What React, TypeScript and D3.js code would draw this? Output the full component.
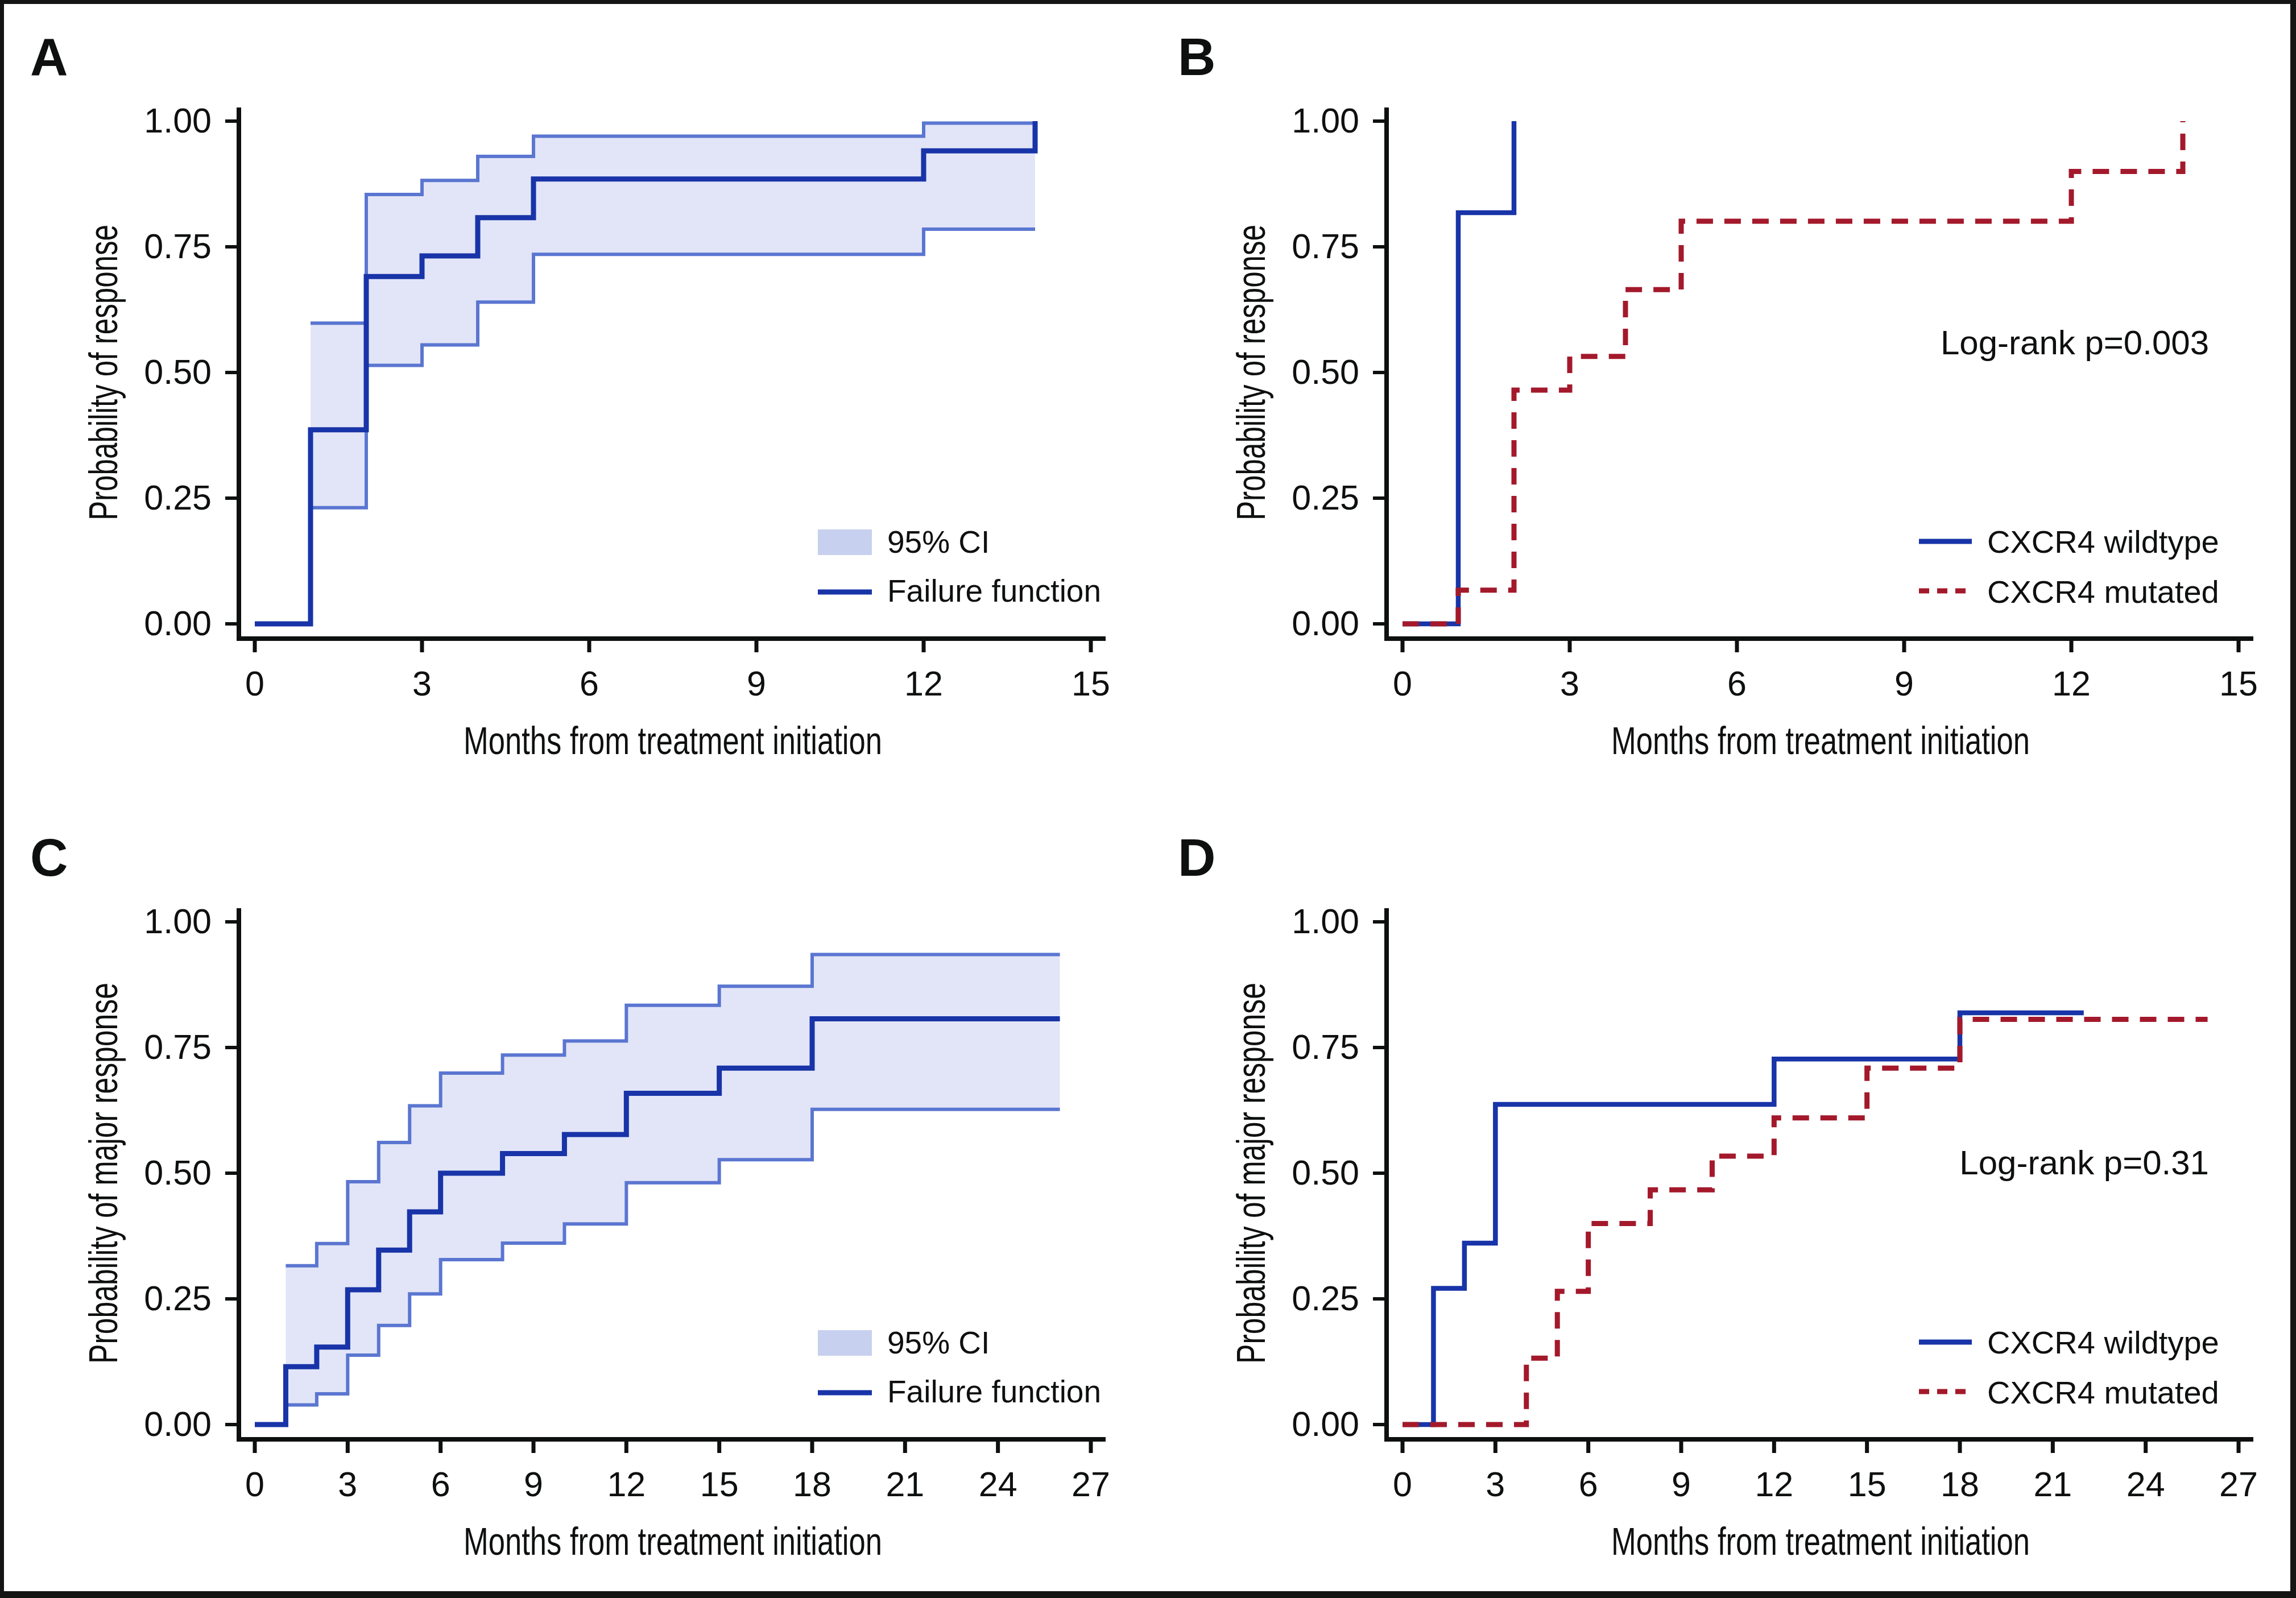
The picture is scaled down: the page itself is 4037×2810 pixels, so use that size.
import React from "react";
import * as d3 from "d3";

const W = 4037;
const H = 2810;

// tick values
const yTicks = [0, 0.25, 0.5, 0.75, 1];
const xTicksShort = [0, 3, 6, 9, 12, 15];
const xTicksLong = [0, 3, 6, 9, 12, 15, 18, 21, 24, 27];

// panel A: overall response, failure function + 95% CI
const aTimes = [0, 1, 2, 3, 4, 5, 12, 14];
const aFailure = [0, 0.386, 0.691, 0.732, 0.808, 0.885, 0.941, 1.0];
const aCiTimes = [1, 2, 3, 4, 5, 12, 14];
const aUpper = [0.598, 0.854, 0.882, 0.93, 0.97, 0.996, 0.996];
const aLower = [0.231, 0.514, 0.555, 0.64, 0.735, 0.785, 0.785];

// panel B: response by CXCR4 status
const bWildTimes = [0, 1, 2];
const bWild = [0, 0.818, 1.0];
const bMutTimes = [0, 1, 2, 3, 4, 5, 12, 14];
const bMut = [0, 0.067, 0.465, 0.532, 0.665, 0.801, 0.9, 1.0];

// panel C: major response, failure function + 95% CI
const cTimes = [0, 1, 2, 3, 4, 5, 6, 8, 10, 12, 15, 18, 26];
const cFailure = [0, 0.115, 0.154, 0.268, 0.347, 0.423, 0.5, 0.539, 0.577, 0.659, 0.709, 0.807, 0.807];
const cCiTimes = [1, 2, 3, 4, 5, 6, 8, 10, 12, 15, 18, 26];
const cUpper = [0.316, 0.36, 0.483, 0.561, 0.634, 0.699, 0.735, 0.763, 0.834, 0.872, 0.935, 0.935];
const cLower = [0.039, 0.061, 0.138, 0.197, 0.26, 0.328, 0.361, 0.399, 0.481, 0.527, 0.627, 0.627];

// panel D: major response by CXCR4 status
const dWildTimes = [0, 1, 2, 3, 12, 18, 22];
const dWild = [0, 0.271, 0.361, 0.637, 0.727, 0.819, 0.819];
const dMutTimes = [0, 4, 5, 6, 8, 10, 12, 15, 18, 26];
const dMut = [0, 0.132, 0.265, 0.4, 0.467, 0.534, 0.61, 0.709, 0.806, 0.806];

const FONT = "'Liberation Sans', Arial, Helvetica, sans-serif";
const INK = "#0e0f0f";
const BLUE = "#1834a8";
const CI_LINE = "#5b76d1";
const CI_FILL = "#e2e5f7";
const CI_SWATCH = "#c8d0ef";
const RED = "#a3192b";
const DASH = "29,20";

type Scale = d3.ScaleLinear<number, number>;

const zip = (t: number[], v: number[]): [number, number][] => t.map((d, i) => [d, v[i]]);

const stepPath = (x: Scale, y: Scale, t: number[], v: number[]) =>
  d3
    .line<[number, number]>()
    .x(d => x(d[0]))
    .y(d => y(d[1]))
    .curve(d3.curveStepAfter)(zip(t, v)) || "";

const bandPath = (x: Scale, y: Scale, t: number[], lo: number[], hi: number[]) =>
  d3
    .area<number>()
    .x(d => x(d))
    .y0((d, i) => y(lo[i]))
    .y1((d, i) => y(hi[i]))
    .curve(d3.curveStepAfter)(t) || "";

type PanelProps = {
  dx: number;
  dy: number;
  label: string;
  xMax: number;
  xTicks: number[];
  yTitle: string;
  yTitleLen: number;
  render: (x: Scale, y: Scale) => React.ReactNode;
};

const Panel = ({ dx, dy, label, xMax, xTicks, yTitle, yTitleLen, render }: PanelProps) => {
  const x = d3.scaleLinear().domain([0, xMax]).range([448, 1918]);
  const y = d3.scaleLinear().domain([0, 1]).range([1097, 213]);
  const fmt = d3.format(".2f");
  return (
    <g transform={`translate(${dx},${dy})`}>
      <text x={53} y={132} fontSize={92} fontWeight="bold" fill={INK}>
        {label}
      </text>

      {/* axes */}
      <line x1={420} x2={420} y1={189} y2={1127} stroke={INK} strokeWidth={8} />
      <line x1={416} x2={1944} y1={1123} y2={1123} stroke={INK} strokeWidth={8} />
      {yTicks.map(t => (
        <g key={"y" + t}>
          <line x1={396} x2={420} y1={y(t)} y2={y(t)} stroke={INK} strokeWidth={6} />
          <text x={372} y={y(t)} dy="0.33em" textAnchor="end" fontSize={61} fill={INK}>
            {fmt(t)}
          </text>
        </g>
      ))}
      {xTicks.map(t => (
        <g key={"x" + t}>
          <line x1={x(t)} x2={x(t)} y1={1123} y2={1147} stroke={INK} strokeWidth={7} />
          <text x={x(t)} y={1223} textAnchor="middle" fontSize={61} fill={INK}>
            {t}
          </text>
        </g>
      ))}
      <text
        x={1183}
        y={1326}
        textAnchor="middle"
        fontSize={68}
        fill={INK}
        textLength={736}
        lengthAdjust="spacingAndGlyphs"
      >
        Months from treatment initiation
      </text>
      <text
        transform="translate(206,655) rotate(-90)"
        textAnchor="middle"
        fontSize={70}
        fill={INK}
        textLength={yTitleLen}
        lengthAdjust="spacingAndGlyphs"
      >
        {yTitle}
      </text>

      {render(x, y)}
    </g>
  );
};

const CiLegend = () => (
  <g>
    <rect x={1438} y={931} width={95} height={45} fill={CI_SWATCH} />
    <text x={1560} y={972} fontSize={55} fill={INK}>
      95% CI
    </text>
    <line x1={1438} x2={1533} y1={1041} y2={1041} stroke={BLUE} strokeWidth={9} />
    <text x={1560} y={1058} fontSize={55} fill={INK}>
      Failure function
    </text>
  </g>
);

const GroupLegend = () => (
  <g>
    <line x1={1356} x2={1449} y1={952} y2={952} stroke={BLUE} strokeWidth={9} />
    <text x={1476} y={972} fontSize={56} fill={INK}>
      CXCR4 wildtype
    </text>
    <line x1={1356} x2={1449} y1={1039} y2={1039} stroke={RED} strokeWidth={9} strokeDasharray="18,14" />
    <text x={1476} y={1060} fontSize={56} fill={INK}>
      CXCR4 mutated
    </text>
  </g>
);

const ciRender = (times: number[], fail: number[], ciT: number[], lo: number[], hi: number[]) =>
  (x: Scale, y: Scale) => (
    <g fill="none">
      <path d={bandPath(x, y, ciT, lo, hi)} fill={CI_FILL} stroke="none" />
      <path d={stepPath(x, y, ciT, hi)} stroke={CI_LINE} strokeWidth={6} />
      <path d={stepPath(x, y, ciT, lo)} stroke={CI_LINE} strokeWidth={6} />
      <path d={stepPath(x, y, times, fail)} stroke={BLUE} strokeWidth={9} />
      <CiLegend />
    </g>
  );

const groupRender = (
  wt: number[],
  wv: number[],
  mt: number[],
  mv: number[],
  pText: string,
  pY: number
) => (x: Scale, y: Scale) => (
  <g fill="none">
    <path d={stepPath(x, y, wt, wv)} stroke={BLUE} strokeWidth={8.5} />
    <path d={stepPath(x, y, mt, mv)} stroke={RED} strokeWidth={9} strokeDasharray={DASH} />
    <text x={1866} y={pY} textAnchor="end" fontSize={60} fill={INK}>
      {pText}
    </text>
    <GroupLegend />
  </g>
);

export default function App() {
  return (
    <svg
      width={W}
      height={H}
      viewBox={`0 0 ${W} ${H}`}
      style={{ position: "absolute", left: 0, top: 0, display: "block" }}
      fontFamily={FONT}
    >
      <rect x={0} y={0} width={W} height={H} fill="#141414" />
      <rect x={7} y={7} width={4020} height={2791} fill="#ffffff" />

      <Panel
        dx={0}
        dy={0}
        label="A"
        xMax={15}
        xTicks={xTicksShort}
        yTitle="Probability of response"
        yTitleLen={520}
        render={ciRender(aTimes, aFailure, aCiTimes, aLower, aUpper)}
      />
      <Panel
        dx={2018}
        dy={0}
        label="B"
        xMax={15}
        xTicks={xTicksShort}
        yTitle="Probability of response"
        yTitleLen={520}
        render={groupRender(bWildTimes, bWild, bMutTimes, bMut, "Log-rank p=0.003", 623)}
      />
      <Panel
        dx={0}
        dy={1408}
        label="C"
        xMax={27}
        xTicks={xTicksLong}
        yTitle="Probability of major response"
        yTitleLen={670}
        render={ciRender(cTimes, cFailure, cCiTimes, cLower, cUpper)}
      />
      <Panel
        dx={2018}
        dy={1408}
        label="D"
        xMax={27}
        xTicks={xTicksLong}
        yTitle="Probability of major response"
        yTitleLen={670}
        render={groupRender(dWildTimes, dWild, dMutTimes, dMut, "Log-rank p=0.31", 657)}
      />
    </svg>
  );
}
